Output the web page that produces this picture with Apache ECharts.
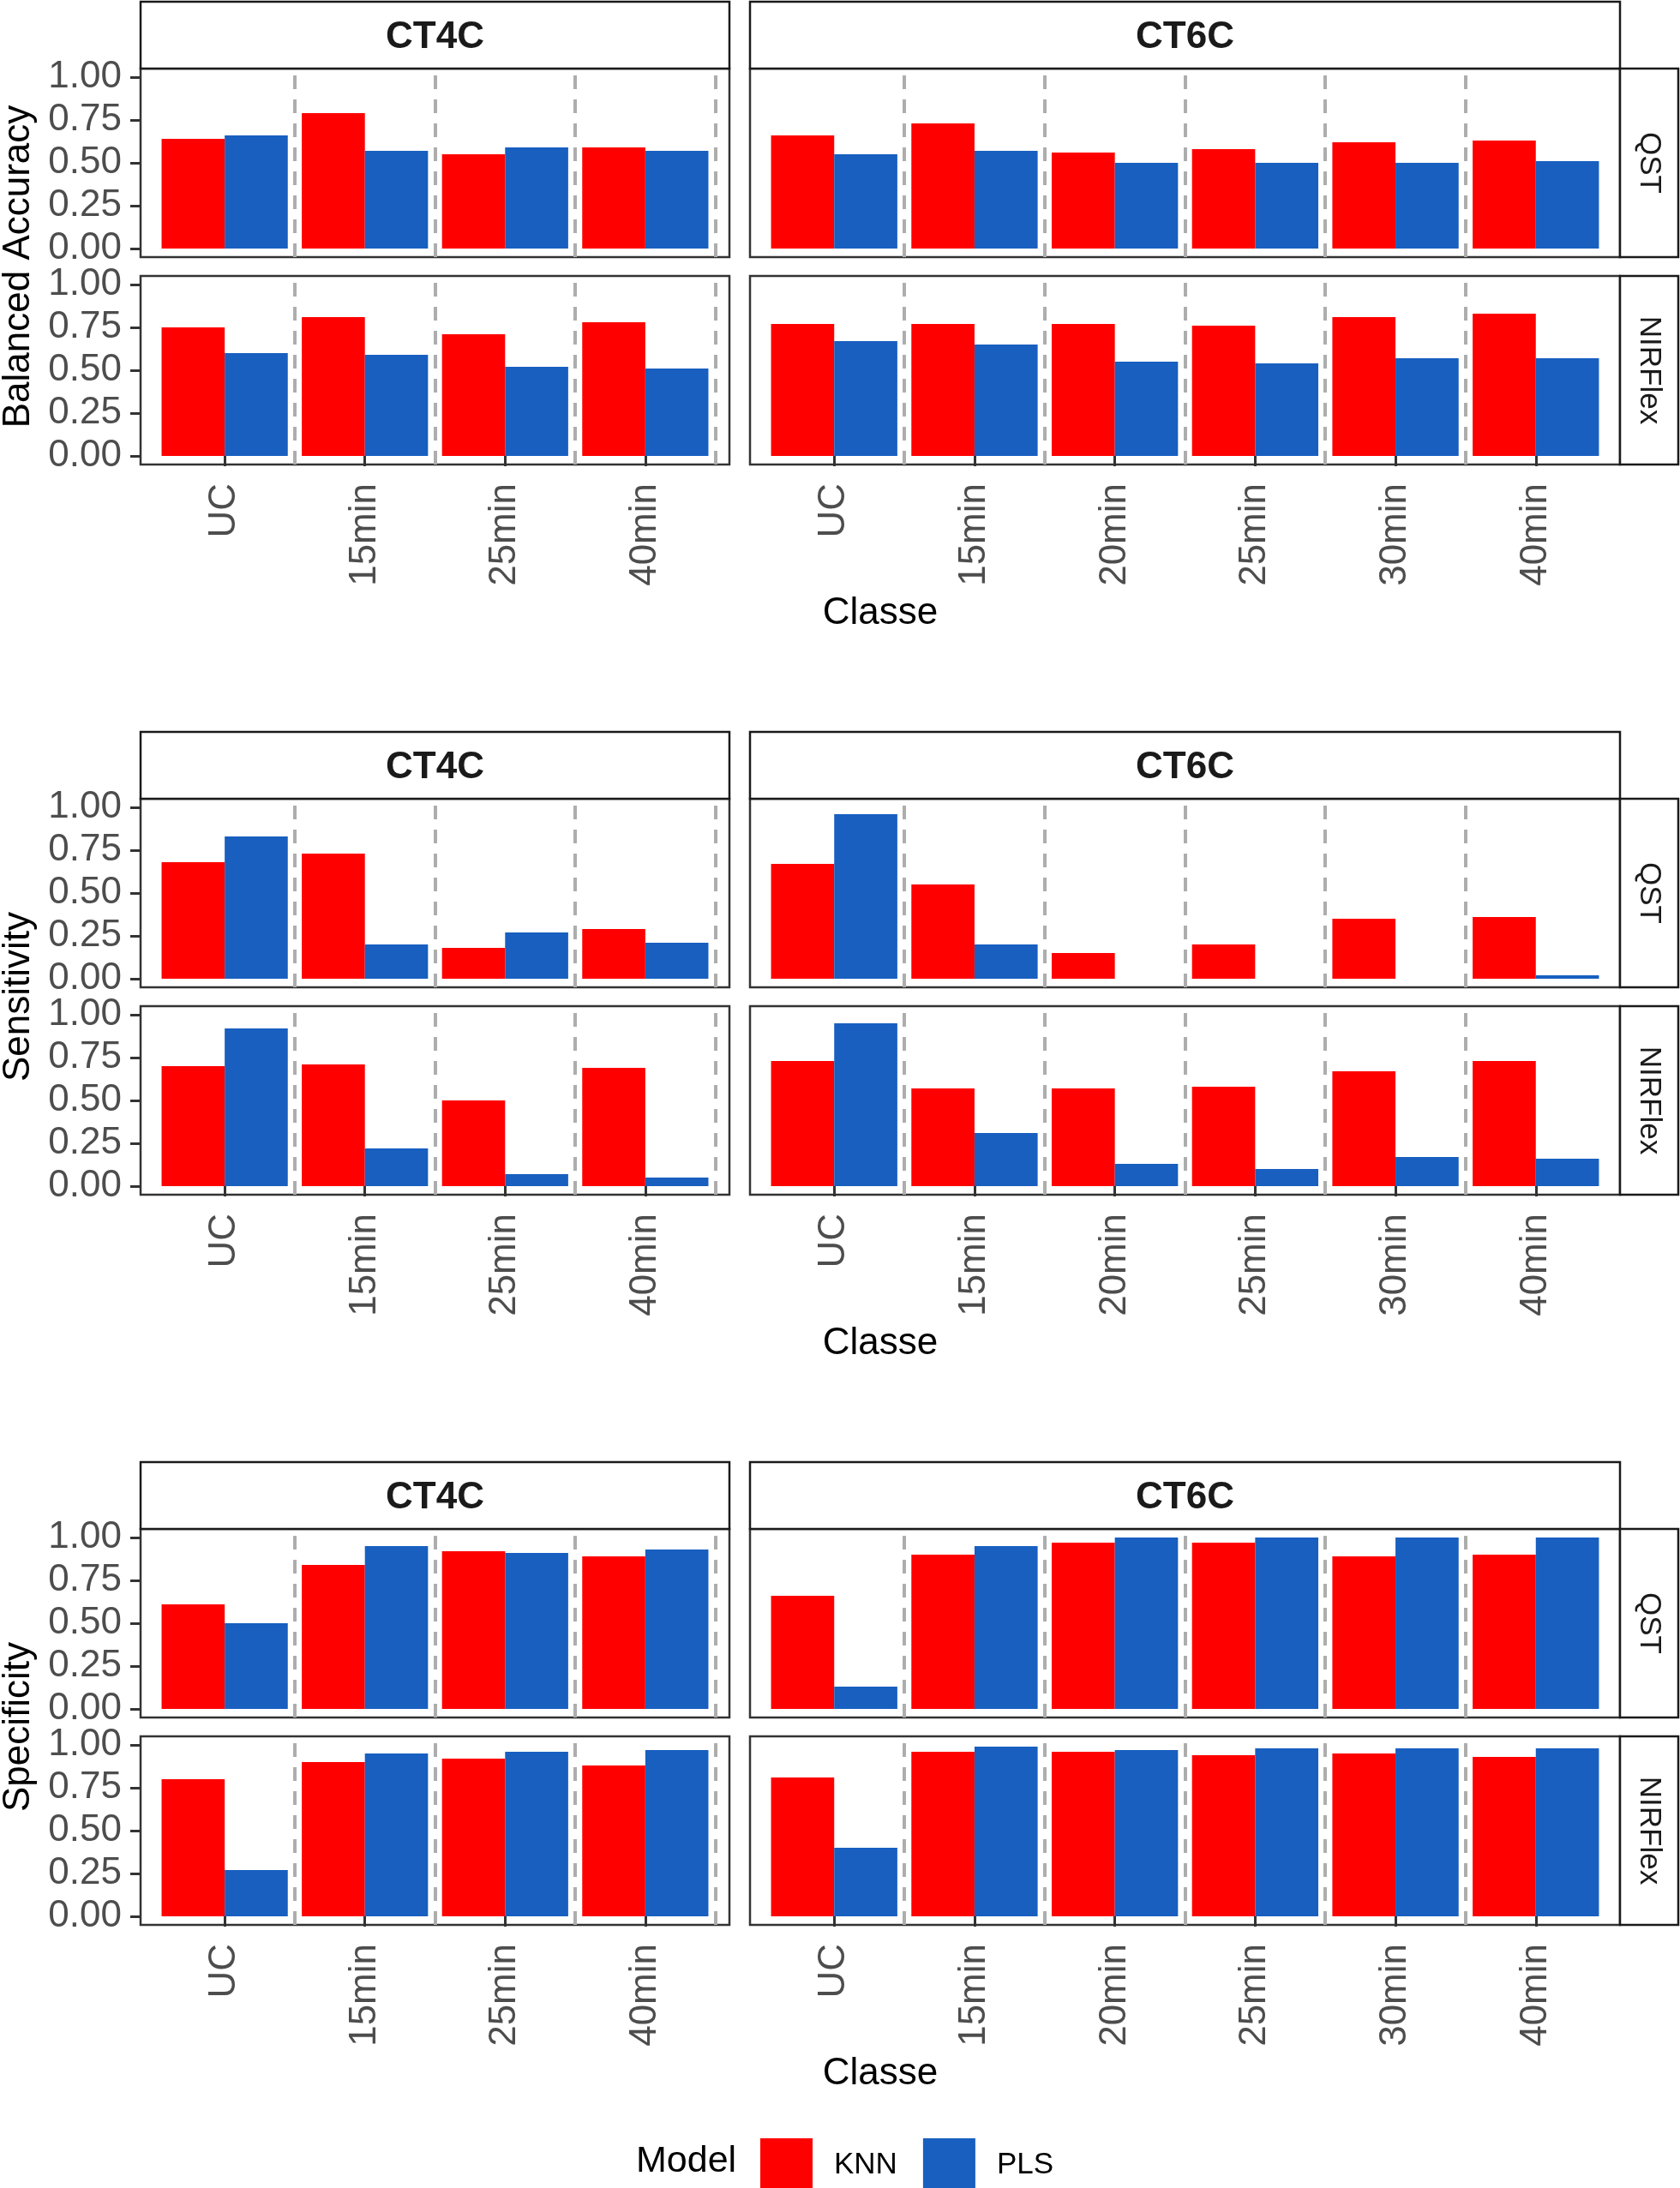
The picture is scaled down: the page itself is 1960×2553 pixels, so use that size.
<!DOCTYPE html>
<html>
<head>
<meta charset="utf-8">
<title>KNN vs PLS</title>
<script src="https://cdn.jsdelivr.net/npm/echarts@6.0.0/dist/echarts.min.js"></script>
<style>
  body { margin: 0; background: #fff; }
  #main { width: 1960px; height: 2553px; }
</style>
</head>
<body>
<div id="main"></div>
<script>
// categories
var classes4 = ['UC', '15min', '25min', '40min'];
var classes6 = ['UC', '15min', '20min', '25min', '30min', '40min'];
var facetCols = ['CT4C', 'CT6C'];
var facetRows = ['QST', 'NIRFlex'];
var metrics = ['Balanced Accuracy', 'Sensitivity', 'Specificity'];
var yTicks = [0, 0.25, 0.5, 0.75, 1];
var dividers = [1.5, 2.5, 3.5, 4.5, 5.5];

// Balanced Accuracy
var baQstCt4cKnn = [0.64, 0.79, 0.55, 0.59];
var baQstCt4cPls = [0.66, 0.57, 0.59, 0.57];
var baNirCt4cKnn = [0.75, 0.81, 0.71, 0.78];
var baNirCt4cPls = [0.60, 0.59, 0.52, 0.51];
var baQstCt6cKnn = [0.66, 0.73, 0.56, 0.58, 0.62, 0.63];
var baQstCt6cPls = [0.55, 0.57, 0.50, 0.50, 0.50, 0.51];
var baNirCt6cKnn = [0.77, 0.77, 0.77, 0.76, 0.81, 0.83];
var baNirCt6cPls = [0.67, 0.65, 0.55, 0.54, 0.57, 0.57];

// Sensitivity
var seQstCt4cKnn = [0.68, 0.73, 0.18, 0.29];
var seQstCt4cPls = [0.83, 0.20, 0.27, 0.21];
var seNirCt4cKnn = [0.70, 0.71, 0.50, 0.69];
var seNirCt4cPls = [0.92, 0.22, 0.07, 0.05];
var seQstCt6cKnn = [0.67, 0.55, 0.15, 0.20, 0.35, 0.36];
var seQstCt6cPls = [0.96, 0.20, 0, 0, 0, 0.02];
var seNirCt6cKnn = [0.73, 0.57, 0.57, 0.58, 0.67, 0.73];
var seNirCt6cPls = [0.95, 0.31, 0.13, 0.10, 0.17, 0.16];

// Specificity
var spQstCt4cKnn = [0.61, 0.84, 0.92, 0.89];
var spQstCt4cPls = [0.50, 0.95, 0.91, 0.93];
var spNirCt4cKnn = [0.80, 0.90, 0.92, 0.88];
var spNirCt4cPls = [0.27, 0.95, 0.96, 0.97];
var spQstCt6cKnn = [0.66, 0.90, 0.97, 0.97, 0.89, 0.90];
var spQstCt6cPls = [0.13, 0.95, 1.00, 1.00, 1.00, 1.00];
var spNirCt6cKnn = [0.81, 0.96, 0.96, 0.94, 0.95, 0.93];
var spNirCt6cPls = [0.40, 0.99, 0.97, 0.98, 0.98, 0.98];

// layout
var FONT = '"Liberation Sans", Arial, sans-serif';
var knnColor = '#FE0000';
var plsColor = '#185FC0';
var colLeft = [164, 875];
var colWidth = [687, 1015];
var groupTop = [2, 854, 1706];
var rowTop = [78, 320];
var panelH = 220;
var stripH = 78;
var stripRightX = 1890;
var stripRightW = 68;

var option = {
  animation: false,
  textStyle: { fontFamily: FONT },
  legend: {
    left: 882,
    top: 2490,
    itemWidth: 61,
    itemHeight: 62,
    itemGap: 30,
    icon: 'rect',
    data: ['KNN', 'PLS'],
    textStyle: { fontSize: 35, color: '#000', fontFamily: FONT, padding: [0, 0, 0, 20] }
  },
  grid: [],
  xAxis: [],
  yAxis: [],
  series: [],
  graphic: []
};

function addPanel(g, row, col, knn, pls) {
  var cats = col === 0 ? classes4 : classes6;
  var n = cats.length;
  var idx = option.grid.length;
  var unit = colWidth[col] / (n + 0.2);
  var bottomRow = row === 1;
  var leftCol = col === 0;
  var xTicks = cats.map(function (c, i) { return i + 1; });

  option.grid.push({
    left: colLeft[col], top: groupTop[g] + rowTop[row],
    width: colWidth[col], height: panelH,
    show: true, backgroundColor: '#fff', borderColor: '#333333', borderWidth: 2.5
  });
  option.xAxis.push({
    gridIndex: idx, type: 'value', min: 0.4, max: n + 0.6,
    splitLine: { show: false },
    axisLine: { show: false },
    axisTick: { show: bottomRow, customValues: xTicks, length: 12, lineStyle: { color: '#333333', width: 3 } },
    axisLabel: {
      show: bottomRow, customValues: xTicks, rotate: 90, margin: 22,
      fontSize: 44, color: '#4D4D4D', fontFamily: FONT,
      formatter: function (v) { return cats[Math.round(v) - 1]; }
    }
  });
  option.yAxis.push({
    gridIndex: idx, type: 'value', min: -0.05, max: 1.05,
    splitLine: { show: false },
    axisLine: { show: false },
    axisTick: { show: leftCol, customValues: yTicks, length: 12, lineStyle: { color: '#333333', width: 3 } },
    axisLabel: {
      show: leftCol, customValues: yTicks, margin: 22,
      fontSize: 44, color: '#4D4D4D', fontFamily: FONT,
      formatter: function (v) { return v.toFixed(2); }
    }
  });

  // dashed class dividers (own series so the bar offset is not applied)
  option.series.push({
    type: 'line', name: 'divider', xAxisIndex: idx, yAxisIndex: idx,
    data: [], silent: true, showSymbol: false,
    markLine: {
      silent: true, symbol: ['none', 'none'], label: { show: false },
      lineStyle: { color: '#ADADAD', width: 4, type: [16, 12] },
      emphasis: { disabled: true },
      data: dividers.filter(function (d) { return d < n + 0.6; }).map(function (d) { return { xAxis: d }; })
    }
  });
  option.series.push({
    type: 'bar', name: 'KNN', xAxisIndex: idx, yAxisIndex: idx,
    data: knn.map(function (v, i) { return [i + 1, v]; }),
    barWidth: unit * 0.45, barGap: '0%',
    itemStyle: { color: knnColor }
  });
  option.series.push({
    type: 'bar', name: 'PLS', xAxisIndex: idx, yAxisIndex: idx,
    data: pls.map(function (v, i) { return [i + 1, v]; }),
    barWidth: unit * 0.45, barGap: '0%',
    itemStyle: { color: plsColor }
  });
}

// strips, titles
function addLabels(g) {
  var T = groupTop[g];
  facetCols.forEach(function (name, c) {
    option.graphic.push({
      type: 'rect', z: 10,
      shape: { x: colLeft[c], y: T, width: colWidth[c], height: stripH },
      style: { fill: '#fff', stroke: '#1A1A1A', lineWidth: 2.5 }
    });
    option.graphic.push({
      type: 'text', z: 11, x: colLeft[c] + colWidth[c] / 2, y: T + 42,
      style: { text: name, font: 'bold 44px ' + FONT, fill: '#1A1A1A', align: 'center', verticalAlign: 'middle' }
    });
  });
  facetRows.forEach(function (name, r) {
    option.graphic.push({
      type: 'rect', z: 10,
      shape: { x: stripRightX, y: T + rowTop[r], width: stripRightW, height: panelH },
      style: { fill: '#fff', stroke: '#1A1A1A', lineWidth: 2.5 }
    });
    option.graphic.push({
      type: 'text', z: 11, x: stripRightX + stripRightW / 2, y: T + rowTop[r] + panelH / 2,
      rotation: -Math.PI / 2,
      style: { text: name, font: '35px ' + FONT, fill: '#1A1A1A', align: 'center', verticalAlign: 'middle' }
    });
  });
  option.graphic.push({
    type: 'text', z: 11, x: 22, y: T + 309, rotation: Math.PI / 2,
    style: { text: metrics[g], font: '44px ' + FONT, fill: '#000', align: 'center', verticalAlign: 'middle' }
  });
  option.graphic.push({
    type: 'text', z: 11, x: 1027, y: T + 714,
    style: { text: 'Classe', font: '44px ' + FONT, fill: '#000', align: 'center', verticalAlign: 'middle' }
  });
}

addPanel(0, 0, 0, baQstCt4cKnn, baQstCt4cPls);
addPanel(0, 0, 1, baQstCt6cKnn, baQstCt6cPls);
addPanel(0, 1, 0, baNirCt4cKnn, baNirCt4cPls);
addPanel(0, 1, 1, baNirCt6cKnn, baNirCt6cPls);

addPanel(1, 0, 0, seQstCt4cKnn, seQstCt4cPls);
addPanel(1, 0, 1, seQstCt6cKnn, seQstCt6cPls);
addPanel(1, 1, 0, seNirCt4cKnn, seNirCt4cPls);
addPanel(1, 1, 1, seNirCt6cKnn, seNirCt6cPls);

addPanel(2, 0, 0, spQstCt4cKnn, spQstCt4cPls);
addPanel(2, 0, 1, spQstCt6cKnn, spQstCt6cPls);
addPanel(2, 1, 0, spNirCt4cKnn, spNirCt4cPls);
addPanel(2, 1, 1, spNirCt6cKnn, spNirCt6cPls);

addLabels(0);
addLabels(1);
addLabels(2);

// legend title
option.graphic.push({
  type: 'text', x: 742, y: 2522,
  style: { text: 'Model', font: '43px ' + FONT, fill: '#000', align: 'left', verticalAlign: 'middle' }
});

var myChart = echarts.init(document.getElementById('main'), null, { renderer: 'canvas' });
myChart.setOption(option);
</script>
</body>
</html>
